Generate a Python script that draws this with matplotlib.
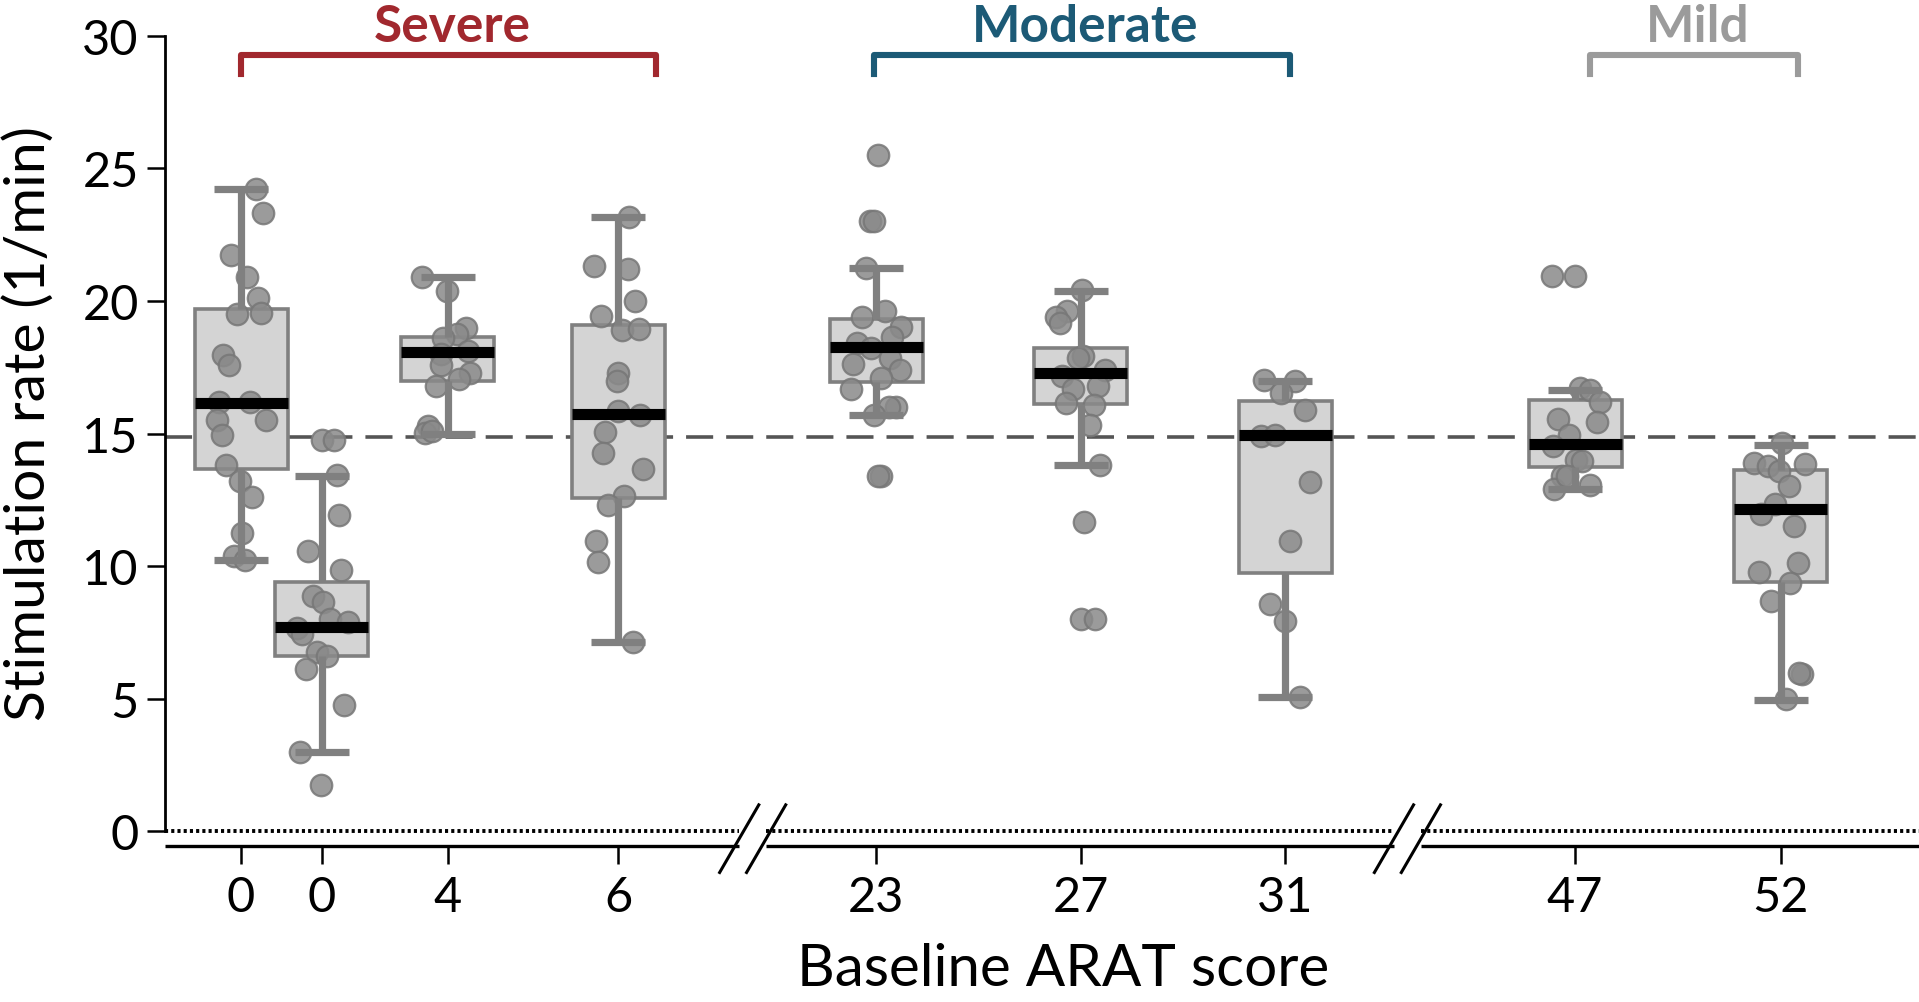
import matplotlib
matplotlib.use("Agg")
import matplotlib.pyplot as plt

# ---------------- data ----------------
tick_labels = ["0", "0", "4", "6", "23", "27", "31", "47", "52"]

q1 = [13.66, 6.62, 16.97, 12.57, 16.96, 16.11, 9.74, 13.75, 9.42]
med = [16.17, 7.72, 18.07, 15.73, 18.27, 17.29, 14.93, 14.62, 12.15]
q3 = [19.68, 9.40, 18.64, 19.08, 19.32, 18.24, 16.23, 16.25, 13.61]
whislo = [10.23, 2.98, 15.00, 7.14, 15.71, 13.80, 5.06, 12.90, 4.96]
whishi = [24.22, 13.41, 20.89, 23.16, 21.26, 20.38, 16.99, 16.65, 14.56]

pts_0a = [24.22, 23.3, 21.75, 20.9, 20.1, 19.5, 19.55, 17.95, 17.6, 16.2, 16.2, 15.5, 15.5, 14.95, 13.8, 13.2, 12.6, 11.26, 10.37, 10.23]
pts_0b = [14.74, 14.74, 13.45, 11.93, 10.58, 9.85, 8.88, 8.64, 8.0, 7.9, 7.67, 7.43, 6.78, 6.62, 6.13, 4.76, 2.98, 1.76]
pts_4 = [20.92, 20.37, 19.0, 18.75, 18.6, 18.1, 18.0, 17.6, 17.3, 17.05, 16.78, 15.27, 15.03, 15.1]
pts_6 = [23.16, 21.31, 21.21, 20.0, 19.43, 18.9, 18.95, 17.3, 16.97, 15.84, 15.71, 15.06, 14.27, 13.66, 12.64, 12.31, 10.95, 10.15, 7.14]
pts_23 = [25.5, 23.03, 23.03, 21.26, 19.39, 19.64, 19.02, 18.65, 18.43, 18.21, 17.62, 17.84, 17.4, 17.11, 16.7, 16.0, 16.0, 15.71, 13.4, 13.4]
pts_27 = [20.42, 19.61, 19.39, 19.17, 17.92, 17.85, 17.4, 17.18, 16.81, 16.67, 16.15, 16.08, 15.34, 13.8, 11.66, 8.01, 8.01]
pts_31 = [17.03, 16.99, 16.52, 15.9, 14.9, 14.93, 13.16, 10.95, 8.57, 7.95, 5.06]
pts_47 = [20.96, 20.96, 16.71, 16.65, 16.2, 15.55, 15.42, 14.96, 14.52, 14.02, 13.96, 13.4, 13.08, 12.9, 13.4]
pts_52 = [14.65, 13.9, 13.86, 13.77, 13.58, 13.04, 12.33, 11.96, 11.52, 10.12, 9.77, 9.36, 8.67, 5.92, 5.96, 4.98]

# horizontal jitter of each point (same units as positions)
jit_0a = [12, 18, -8, 5, 14, -3, 16, -15, -10, -18, 7, 20, -20, -16, -12, -1, 9, 1, -6, 3]
jit_0b = [0, 10, 12, 14, -11, 16, -7, 1, 7, 21, -20, -16, -4, 4, -13, 18, -18, -1]
jit_4 = [-21, -1, 15, 7, -4, 16, -6, -6, 18, 9, -10, -16, -19, -13]
jit_6 = [9, -20, 8, 14, -14, 3, 17, 0, -1, 0, 18, -11, -12, 20, 5, -8, -18, -16, 12]
jit_23 = [1, -5, -2, -8, -12, 7, 20, 13, -16, -4, -19, 11, 19, 4, -21, 16, 10, -2, 4, 1]
jit_27 = [1, -11, -20, -17, 2, -2, 20, -15, 14, -6, -12, 11, 8, 16, 3, 0, 12]
jit_31 = [-17, 8, -3, 16, -20, -8, 20, 4, -12, 0, 12]
jit_47 = [-19, 0, 4, 12, 20, -14, 18, -5, -18, 1, 6, -11, 12, -17, -7]
jit_52 = [1, -22, 20, -10, -1, 7, -5, -16, 11, 14, -18, 8, -8, 17, 15, 4]

reference_rate = 14.87
group_names = ["Severe", "Moderate", "Mild"]
group_members = [(0, 3), (4, 6), (7, 8)]

# ---------------- layout ----------------
positions = [62, 128, 231, 370, 581, 748, 915, 1152, 1320]
bracket_pad = [(0, 31), (-2, 4), (12, 14)]
x_max = 1433
breaks = [480, 1015]
break_half = 11
y_bottom = -0.56
box_width = 76
cap_width = 44

all_pts = [pts_0a, pts_0b, pts_4, pts_6, pts_23, pts_27, pts_31, pts_47, pts_52]
all_jit = [jit_0a, jit_0b, jit_4, jit_6, jit_23, jit_27, jit_31, jit_47, jit_52]
group_colors = ["#A1282E", "#1C5A76", "#9B9B9B"]

plt.rcParams["font.family"] = ["Lato", "DejaVu Sans"]

fig = plt.figure(figsize=(19.19, 10.03), dpi=100)
ax = fig.add_axes([0.0861, 0.1553, 0.9139, 0.808])

stats = []
for i in range(len(med)):
    stats.append(dict(med=med[i], q1=q1[i], q3=q3[i], whislo=whislo[i],
                      whishi=whishi[i], fliers=[]))

gray = "#808080"
ax.bxp(stats, positions=positions, widths=box_width, capwidths=cap_width,
       showfliers=False, patch_artist=True,
       boxprops=dict(facecolor="#D4D4D4", edgecolor=gray, linewidth=2.6, zorder=1),
       whiskerprops=dict(color=gray, linewidth=5.2, solid_capstyle="butt", zorder=3),
       capprops=dict(color=gray, linewidth=5.2, solid_capstyle="butt", zorder=3),
       medianprops=dict(color="black", linewidth=8, solid_capstyle="butt", zorder=4))

for pos, vals, jit in zip(positions, all_pts, all_jit):
    xs = [pos + j for j in jit]
    ax.scatter(xs, vals, s=240, facecolor="#8A8A8A", edgecolor="#777777",
               linewidth=1.6, alpha=0.85, zorder=2)

# reference dashed line
ax.axhline(reference_rate, color="#555555", linewidth=2.6, dashes=(7.5, 3.6), zorder=0.5)

# dotted zero line and bottom axis line with breaks
seg_edges = [0] + [v for b in breaks for v in (b - break_half, b + break_half)] + [x_max]
for k in range(0, len(seg_edges), 2):
    x0, x1 = seg_edges[k], seg_edges[k + 1]
    ax.plot([x0, x1], [0, 0], color="black", linewidth=2.8, linestyle=(0, (0.8, 0.8)),
            clip_on=False, zorder=0.6)
    ax.plot([x0, x1], [y_bottom, y_bottom], color="black", linewidth=2.4,
            solid_capstyle="butt", clip_on=False)
for b in breaks:
    for c in (b - break_half, b + break_half):
        ax.plot([c - 16, c + 16], [-1.55, 1.0], color="black", linewidth=2.2,
                clip_on=False)

# group brackets
for name, (a, b), (pa, pb), col in zip(group_names, group_members, bracket_pad, group_colors):
    xa, xb = positions[a] + pa, positions[b] + pb
    ax.plot([xa, xa, xb, xb], [28.56, 29.26, 29.26, 28.56], color=col,
            linewidth=4.4, solid_joinstyle="round", clip_on=False)
    ax.text((xa + xb) / 2 + 3, 30.35, name, color=col, fontsize=37, fontweight="bold",
            ha="center", va="center")

ax.set_xlim(0, x_max)
ax.set_ylim(y_bottom, 30)
ax.set_xticks(positions)
ax.set_xticklabels(tick_labels)
ax.set_yticks([0, 5, 10, 15, 20, 25, 30])
ax.tick_params(axis="both", labelsize=35, length=13, width=1.8, color="black")
ax.tick_params(axis="x", pad=8)
ax.tick_params(axis="y", pad=6)

for s in ("top", "right", "bottom"):
    ax.spines[s].set_visible(False)
ax.spines["left"].set_bounds(0, 30)
ax.spines["left"].set_linewidth(2.0)

ax.set_xlabel("Baseline ARAT score", fontsize=42)
ax.xaxis.set_label_coords(0.512, -0.118)
ax.set_ylabel("Stimulation rate (1/min)", fontsize=41)
ax.yaxis.set_label_coords(-0.063, 0.523)

fig.savefig("out.png", dpi=100)
